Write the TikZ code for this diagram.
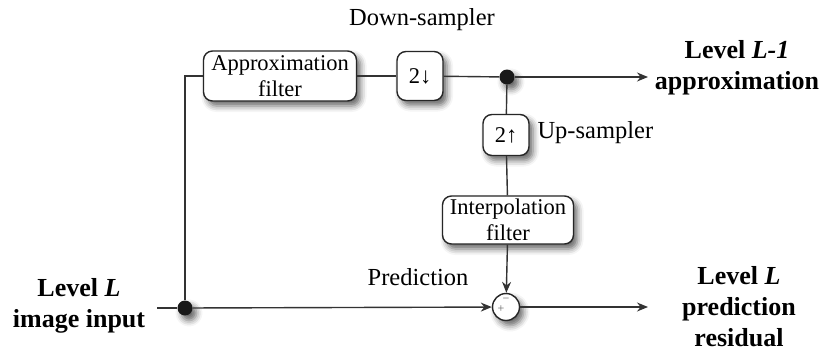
\documentclass[tikz,border=0pt]{standalone}
\usepackage{fontspec}
\setmainfont{Liberation Serif}
\usetikzlibrary{arrows.meta,shadows.blur}

\tikzset{
  wire/.style={draw=black!80, line width=1.4pt},
  flow/.style={wire, -{Stealth[length=11pt,width=9pt]}},
  softshadow/.style={blur shadow={shadow xshift=4pt, shadow yshift=-5pt,
      shadow blur radius=6pt, shadow opacity=60}},
  block/.style={draw=black!85, line width=1.4pt, fill=white, rounded corners=9pt,
      align=center, inner sep=0pt, softshadow,
      font=\fontsize{22.5}{25.5}\selectfont},
  junction/.style={circle, fill=black!90, minimum size=15pt, inner sep=0pt, softshadow},
  adder/.style={circle, draw=black!85, line width=1.4pt, fill=white,
      minimum size=27pt, inner sep=0pt, softshadow},
  caption/.style={font=\fontsize{24.5}{27}\selectfont},
  result/.style={font=\fontsize{26}{31}\selectfont\bfseries, align=center},
}

\begin{document}
\begin{tikzpicture}[x=1pt, y=-1pt]
  \useasboundingbox (0,0) rectangle (821,354);

  % processing blocks
  \node[block, minimum width=153pt, minimum height=50pt] (approx) at (280,76)
       {Approximation\\filter};
  \node[block, minimum width=46pt, minimum height=49pt] (down) at (420,76) {2↓};
  \node[block, minimum width=46pt, minimum height=41pt] (up) at (506,135) {2↑};
  \node[block, minimum width=131pt, minimum height=48pt] (interp) at (508,220)
       {Interpolation\\filter};

  % branch points and the difference node
  \node[junction] (topdot) at (507,77) {};
  \node[junction] (indot) at (185,308) {};
  \node[adder] (sum) at (506,307) {};
  \node[text=black!60, font=\fontsize{12}{12}\selectfont, inner sep=0pt]
       (plus) at ([xshift=-5pt,yshift=-2pt]sum.center) {+};
  \node[text=black!60, font=\fontsize{12}{12}\selectfont, inner sep=0pt]
       (minus) at ([yshift=7pt]sum.center) {−};

  % free ends of the signal paths
  \coordinate (input) at (157,308);
  \coordinate (outapprox) at (648,77);
  \coordinate (outres) at (648,307);

  % signal paths
  \draw[wire] (indot) |- (approx.west);
  \draw[wire] (approx) -- (down);
  \draw[wire] (down) -- (topdot);
  \draw[flow] (topdot) -- (outapprox);
  \draw[wire] (topdot) -- (up);
  \draw[wire] (up) -- (interp);
  \draw[flow] (interp) -- (sum);
  \draw[wire] (input) -- (indot);
  \draw[flow] (indot) -- (sum);
  \draw[flow] (sum) -- (outres);

  % labels
  \node[caption] (dslabel) at (422,20) {Down-sampler};
  \node[caption, anchor=west] (uslabel) at (534,133) {Up-sampler};
  \node[caption] (predlabel) at (418,277) {Prediction};
  \node[result] (lvlin) at (79,306) {Level \textit{L}\\image input};
  \node[result] (lvlapprox) at (737,68) {Level \textit{L-1}\\approximation};
  \node[result] (lvlres) at (739,307) {Level \textit{L}\\prediction\\residual};
\end{tikzpicture}
\end{document}
